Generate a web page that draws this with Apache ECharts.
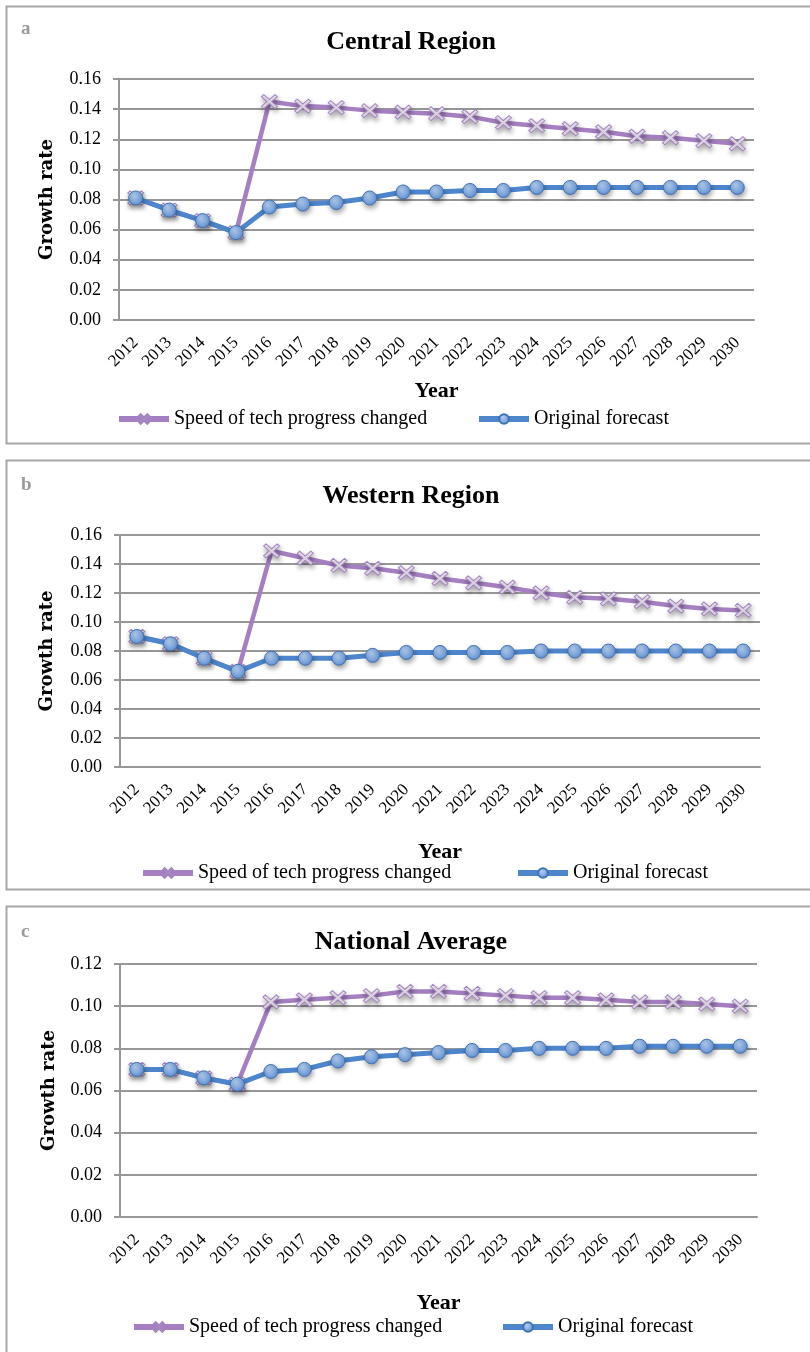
<!DOCTYPE html>
<html>
<head>
<meta charset="utf-8">
<script src="https://cdn.jsdelivr.net/npm/echarts@6/dist/echarts.min.js"></script>
<style>
  html, body { margin: 0; padding: 0; background: #fff; }
  #chart { width: 810px; height: 1352px; }
</style>
</head>
<body>
<div id="chart"></div>
<script>
// Years on the category axis
const years = ['2012','2013','2014','2015','2016','2017','2018','2019','2020','2021',
               '2022','2023','2024','2025','2026','2027','2028','2029','2030'];

// Central region growth rates
const centralTech = [0.081,0.073,0.066,0.058,0.145,0.142,0.141,0.139,0.138,0.137,
                     0.135,0.131,0.129,0.127,0.125,0.122,0.121,0.119,0.117];
const centralBase = [0.081,0.073,0.066,0.058,0.075,0.077,0.078,0.081,0.085,0.085,
                     0.086,0.086,0.088,0.088,0.088,0.088,0.088,0.088,0.088];

// Western region growth rates
const westernTech = [0.090,0.085,0.075,0.066,0.149,0.144,0.139,0.137,0.134,0.130,
                     0.127,0.124,0.120,0.117,0.116,0.114,0.111,0.109,0.108];
const westernBase = [0.090,0.085,0.075,0.066,0.075,0.075,0.075,0.077,0.079,0.079,
                     0.079,0.079,0.080,0.080,0.080,0.080,0.080,0.080,0.080];

// National average growth rates
const nationalTech = [0.070,0.070,0.066,0.063,0.102,0.103,0.104,0.105,0.107,0.107,
                      0.106,0.105,0.104,0.104,0.103,0.102,0.102,0.101,0.100];
const nationalBase = [0.070,0.070,0.066,0.063,0.069,0.070,0.074,0.076,0.077,0.078,
                      0.079,0.079,0.080,0.080,0.080,0.081,0.081,0.081,0.081];

// Panel titles, letters and y-axis ranges
const panelTitles = ['Central Region', 'Western Region', 'National Average'];
const panelLetters = ['a', 'b', 'c'];
const yMax = [0.16, 0.16, 0.12];
const seriesNames = ['Speed of tech progress changed', 'Original forecast'];

const techData = [centralTech, westernTech, nationalTech];
const baseData = [centralBase, westernBase, nationalBase];

// Layout of the three stacked panels
const panels = [
  { box: [4, 4, 437],   grid: [119, 79, 635, 241],  title: 24,  letter: 20,  xGap: 60, yGap: 63, legendTop: 404,  legendLeft: [111, 471] },
  { box: [4, 458, 429], grid: [120, 535, 640, 232], title: 478, letter: 476, xGap: 74, yGap: 64, legendTop: 858,  legendLeft: [135, 510] },
  { box: [4, 904, 520], grid: [120, 964, 637, 253], title: 924, letter: 923, xGap: 75, yGap: 62, legendTop: 1312, legendLeft: [126, 495] }
];

const SERIF = '"Liberation Serif", "Times New Roman", serif';
const GRID_GREY = '#979797';
const PURPLE = '#a57fc2';
const BLUE = '#4d86cc';

// X-shaped marker drawn as a filled outline
const crossPath = 'path://M0,3 L3,0 L10,7 L17,0 L20,3 L13,10 L20,17 L17,20 L10,13 L3,20 L0,17 L7,10 Z';

const chart = echarts.init(document.getElementById('chart'), null, { renderer: 'canvas' });

const grids = [], xAxes = [], yAxes = [], series = [], titles = [], legends = [], graphics = [];

panels.forEach((p, i) => {
  graphics.push({
    type: 'rect', left: p.box[0], top: p.box[1], silent: true,
    shape: { width: 830, height: p.box[2] },
    style: { fill: 'none', stroke: '#a8a8a8', lineWidth: 2 }
  });
  graphics.push({
    type: 'text', left: 21, top: p.letter, silent: true,
    style: { text: panelLetters[i], font: 'bold 19px ' + SERIF, fill: '#9a9a9a' }
  });

  grids.push({ left: p.grid[0], top: p.grid[1], width: p.grid[2], height: p.grid[3], containLabel: false });

  titles.push({
    text: panelTitles[i], left: 406, top: p.title, textAlign: 'center',
    textStyle: { fontFamily: SERIF, fontWeight: 'bold', fontSize: 26, color: '#000' }
  });

  xAxes.push({
    type: 'category', gridIndex: i, data: years, boundaryGap: true,
    axisLine: { show: true, lineStyle: { color: GRID_GREY, width: 2 } },
    axisTick: { show: false },
    axisLabel: { interval: 0, rotate: 45, margin: 20, fontFamily: SERIF, fontSize: 17, color: '#000' },
    name: 'Year', nameLocation: 'middle', nameGap: p.xGap,
    nameTextStyle: { fontFamily: SERIF, fontWeight: 'bold', fontSize: 22, color: '#000' }
  });

  yAxes.push({
    type: 'value', gridIndex: i, min: 0, max: yMax[i], interval: 0.02,
    axisLine: { show: true, lineStyle: { color: GRID_GREY, width: 2 } },
    axisTick: { show: true, length: 6, lineStyle: { color: GRID_GREY, width: 2 } },
    splitLine: { show: true, lineStyle: { color: GRID_GREY, width: 2 } },
    axisLabel: { margin: 18, fontFamily: SERIF, fontSize: 18, color: '#000',
                 formatter: v => v.toFixed(2) },
    name: 'Growth rate', nameLocation: 'middle', nameGap: p.yGap, nameRotate: 90,
    nameTextStyle: { fontFamily: '"DejaVu Serif", serif', fontWeight: 'bold', fontSize: 18, color: '#000' }
  });

  series.push({
    name: seriesNames[0], type: 'line', xAxisIndex: i, yAxisIndex: i,
    data: techData[i], symbol: crossPath, symbolSize: [16, 14],
    lineStyle: { color: PURPLE, width: 4.5 },
    itemStyle: { color: '#efe8f4', borderColor: '#a484bf', borderWidth: 1,
                 shadowBlur: 5, shadowColor: 'rgba(0,0,0,0.35)', shadowOffsetY: 3, shadowOffsetX: 1 },
    z: 3
  });
  series.push({
    name: seriesNames[1], type: 'line', xAxisIndex: i, yAxisIndex: i,
    data: baseData[i], symbol: 'circle', symbolSize: 14,
    lineStyle: { color: BLUE, width: 5 },
    itemStyle: {
      color: new echarts.graphic.RadialGradient(0.4, 0.35, 0.7, [
        { offset: 0, color: '#b3cdf0' },
        { offset: 1, color: '#5d8fd3' }
      ]),
      borderColor: '#3f72b4', borderWidth: 1,
      shadowBlur: 5, shadowColor: 'rgba(0,0,0,0.35)', shadowOffsetY: 3, shadowOffsetX: 1
    },
    z: 4
  });

  seriesNames.forEach((n, k) => {
    legends.push({
      data: [n], left: p.legendLeft[k], top: p.legendTop,
      itemWidth: 50, itemHeight: 12, itemGap: 4,
      lineStyle: { width: 6 },
      textStyle: { fontFamily: SERIF, fontSize: 20, color: '#000' }
    });
  });
});

chart.setOption({
  animation: false,
  backgroundColor: '#fff',
  title: titles,
  legend: legends,
  grid: grids,
  xAxis: xAxes,
  yAxis: yAxes,
  series: series,
  graphic: graphics
});
</script>
</body>
</html>
